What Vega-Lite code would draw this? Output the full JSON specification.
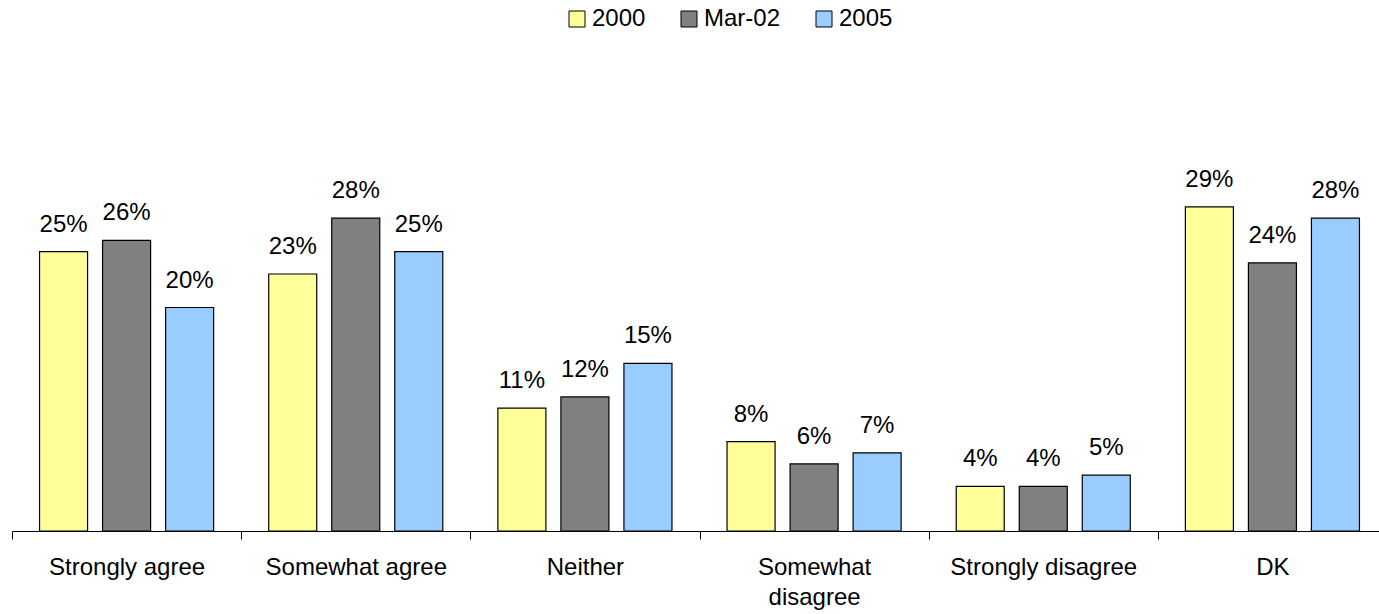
{
  "$schema": "https://vega.github.io/schema/vega-lite/v6.json",
  "width": 1375,
  "height": 447,
  "autosize": {"type": "none"},
  "padding": {"left": 12, "top": 84, "right": -8, "bottom": 83},
  "config": {"view": {"stroke": null}, "font": "Liberation Sans"},
  "data": {
    "values": [
      {"response": "Strongly agree", "year": "2000", "value": 0.25},
      {"response": "Strongly agree", "year": "Mar-02", "value": 0.26},
      {"response": "Strongly agree", "year": "2005", "value": 0.20},
      {"response": "Somewhat agree", "year": "2000", "value": 0.23},
      {"response": "Somewhat agree", "year": "Mar-02", "value": 0.28},
      {"response": "Somewhat agree", "year": "2005", "value": 0.25},
      {"response": "Neither", "year": "2000", "value": 0.11},
      {"response": "Neither", "year": "Mar-02", "value": 0.12},
      {"response": "Neither", "year": "2005", "value": 0.15},
      {"response": "Somewhat disagree", "year": "2000", "value": 0.08},
      {"response": "Somewhat disagree", "year": "Mar-02", "value": 0.06},
      {"response": "Somewhat disagree", "year": "2005", "value": 0.07},
      {"response": "Strongly disagree", "year": "2000", "value": 0.04},
      {"response": "Strongly disagree", "year": "Mar-02", "value": 0.04},
      {"response": "Strongly disagree", "year": "2005", "value": 0.05},
      {"response": "DK", "year": "2000", "value": 0.29},
      {"response": "DK", "year": "Mar-02", "value": 0.24},
      {"response": "DK", "year": "2005", "value": 0.28}
    ]
  },
  "encoding": {
    "x": {
      "field": "response",
      "type": "nominal",
      "sort": ["Strongly agree", "Somewhat agree", "Neither", "Somewhat disagree", "Strongly disagree", "DK"],
      "scale": {"paddingInner": 0, "paddingOuter": 0},
      "axis": {
        "title": null,
        "labelAngle": 0,
        "tickBand": "extent",
        "tickSize": 8,
        "tickColor": "black",
        "tickWidth": 1,
        "domainColor": "black",
        "domainWidth": 1,
        "labelFontSize": 24,
        "labelColor": "black",
        "labelPadding": 16,
        "labelBaseline": "top",
        "labelLimit": 0,
        "labelLineHeight": 30,
        "grid": false,
        "labelExpr": "datum.label == 'Somewhat disagree' ? ['Somewhat', 'disagree'] : datum.label"
      }
    },
    "xOffset": {
      "field": "year",
      "type": "nominal",
      "sort": ["2000", "Mar-02", "2005"],
      "scale": {"paddingInner": 0.238, "paddingOuter": 0.437}
    },
    "y": {
      "field": "value",
      "type": "quantitative",
      "scale": {"domain": [0, 0.4]},
      "axis": null
    }
  },
  "layer": [
    {
      "mark": {"type": "bar", "stroke": "black", "strokeWidth": 1.2},
      "encoding": {
        "color": {
          "field": "year",
          "type": "nominal",
          "sort": ["2000", "Mar-02", "2005"],
          "scale": {"domain": ["2000", "Mar-02", "2005"], "range": ["#FFFF99", "#808080", "#99CCFF"]},
          "legend": {
            "orient": "none",
            "direction": "horizontal",
            "legendX": 553,
            "legendY": -77,
            "title": null,
            "padding": 0,
            "symbolType": "square",
            "symbolSize": 256,
            "symbolStrokeColor": "black",
            "symbolStrokeWidth": 1,
            "symbolOpacity": 1,
            "labelFontSize": 24,
            "labelColor": "black",
            "labelOffset": 3,
            "columnPadding": 31
          }
        }
      }
    },
    {
      "mark": {"type": "text", "dy": -20, "baseline": "alphabetic", "fontSize": 24, "color": "black"},
      "encoding": {
        "text": {"field": "value", "type": "quantitative", "format": ".0%"}
      }
    }
  ]
}
